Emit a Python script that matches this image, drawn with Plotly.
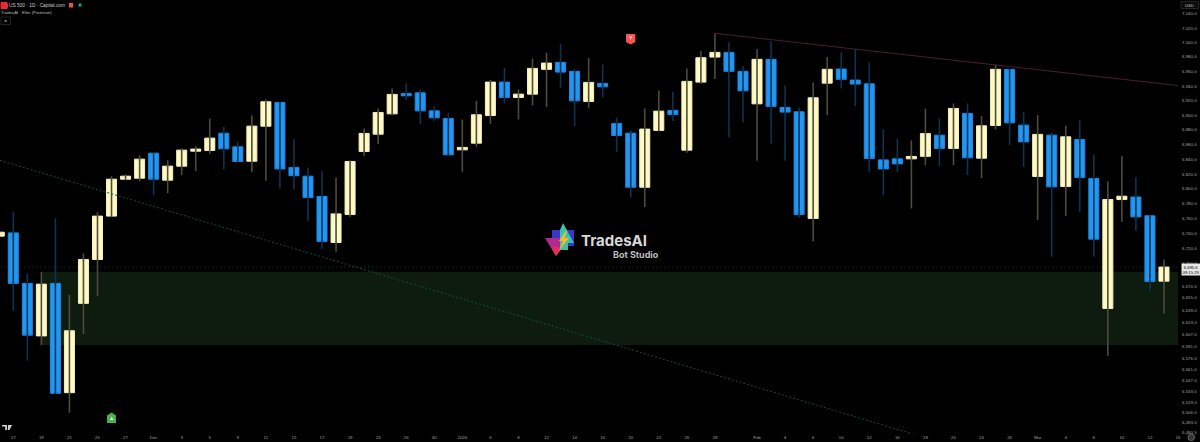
import plotly.graph_objects as go

# Candle values, first bar is the partly hidden one at the left edge
body_top = [6742.0,6741.1,6674.0,6673.0,6674.0,6611.7,6705.7,6763.5,6813.1,6817.2,6840.2,6848.3,6830.7,6852.4,6853.8,
 6868.7,6875.4,6856.9,6885.0,6918.3,6917.4,6829.0,6817.2,6789.8,6766.5,6837.0,6875.1,6903.7,6928.4,
 6929.8,6930.6,6905.9,6895.5,6856.1,6900.5,6945.3,6945.3,6928.8,6964.2,6971.5,6972.5,6960.1,6944.9,6943.5,
 6888.7,6875.5,6881.0,6905.5,6906.5,6946.3,6978.9,6986.3,6986.3,6960.1,6976.7,6976.7,6910.6,6904.6,6923.8,
 6962.9,6963.3,6948.1,6943.0,6839.2,6840.6,6843.9,6874.9,6872.7,6909.2,6902.4,6885.4,6962.9,6962.9,6886.4,
 6873.8,6872.8,6870.5,6866.9,6814.1,6785.7,6790.2,6789.2,6763.9,6695.6]
body_bottom = [6736.7,6674.0,6606.0,6605.0,6530.4,6531.2,6647.7,6705.7,6763.5,6813.1,6814.5,6813.1,6811.8,6830.7,6851.0,
 6852.0,6854.2,6837.0,6837.4,6885.0,6827.0,6817.8,6788.4,6729.7,6728.3,6765.7,6850.6,6874.1,6901.8,
 6926.5,6905.9,6896.4,6846.1,6852.8,6861.9,6899.5,6924.2,6924.2,6928.8,6962.9,6959.1,6919.6,6918.8,6938.8,
 6872.3,6802.3,6802.3,6879.2,6901.0,6852.4,6945.3,6979.8,6960.1,6933.3,6915.5,6912.0,6904.2,6765.7,6760.4,
 6943.9,6949.1,6942.6,6841.1,6827.0,6833.8,6840.6,6844.0,6854.7,6854.7,6842.0,6841.5,6886.0,6889.5,6863.6,
 6816.8,6802.8,6803.3,6815.4,6732.7,6641.0,6785.7,6762.5,6676.6,6677.0]
highs = [6745.0,6769.0,6687.5,6689.3,6760.8,6659.0,6713.7,6768.8,6817.2,6819.9,6845.6,6849.7,6838.8,6855.1,6857.8,
 6895.5,6884.1,6864.2,6900.0,6921.9,6917.9,6867.3,6828.4,6823.9,6815.4,6838.8,6881.9,6909.2,6936.6,
 6943.5,6935.3,6912.4,6903.2,6894.2,6919.6,6948.1,6965.0,6935.3,6978.0,6985.8,6997.9,6962.9,6978.4,6969.7,
 6896.9,6879.6,6909.2,6933.9,6932.0,6964.2,6988.1,7012.7,7000.2,6967.4,6990.9,7002.0,6940.8,6910.6,6944.9,
 6979.8,6986.3,6990.9,6972.5,6881.0,6867.8,6865.6,6909.0,6895.5,6916.0,6916.0,6898.7,6969.7,6963.3,6904.6,
 6900.0,6876.0,6885.4,6892.8,6846.6,6810.5,6844.3,6816.1,6764.8,6705.7]
lows = [6735.0,6637.9,6572.6,6593.0,6529.5,6505.4,6607.4,6657.2,6762.1,6811.8,6810.5,6791.5,6794.2,6818.5,6824.0,
 6847.4,6826.2,6836.8,6822.6,6810.9,6800.6,6799.2,6757.2,6719.4,6715.8,6762.5,6844.3,6860.6,6900.0,
 6920.6,6887.7,6892.2,6844.3,6823.0,6856.9,6888.1,6916.0,6894.2,6913.3,6911.0,6937.5,6885.0,6910.0,6924.2,
 6850.0,6788.4,6775.5,6878.2,6892.2,6848.8,6943.0,6949.5,6869.7,6890.5,6837.9,6861.5,6837.9,6761.2,6729.7,
 6900.0,6936.6,6912.4,6823.0,6791.5,6823.0,6773.8,6832.0,6831.0,6832.0,6818.5,6814.5,6880.6,6859.2,6829.7,
 6758.1,6709.2,6763.9,6768.8,6709.2,6578.7,6755.8,6743.8,6664.2,6634.4]
direction = ("UDDUDUUUUU" "UDUUUUDDUU" "DDDDUUUUUD" "DDDUUUDUUU" "DDUDDDUUDU"
             "UUDDUDDDUU" "DDDDDUUDUD" "UUDDUDUDDU" "UDDU")

x_ticks = [0,2,4,6,8,10,12,14,16,18,20,22,24,26,28,30,32,34,36,38,40,42,44,46,48,50,53,55,57,59,61,63,65,67,69,71,73,75,77,79,81,83]
x_labels = ["17","19","21","25","27","Dec","3","5","9","11","15","17","19","23","26","30","2026","6","8","12","14","16","20","22","26","28","Feb","4","6","10","12","16","18","20","24","26","Mar","4","6","10","12","16"]
y_ticks = [7040,7020,7000,6980,6960,6940,6920,6900,6880,6860,6840,6820,6800,6780,6760,6740,6720,6700,6670,6655,6639,6623,6607,6591,6576,6561,6547,6533,6519,6506,6493,6480.5]
zone_top, zone_bottom = 6689.3, 6593.0
last_price = 6695.6
res_line_price = [7012.7, 6940.6]
sup_line_price = [6838.5, 6478.0]

W, H, PW, PH = 1200, 442, 1178, 434
XR = [-0.948, 83.0]
bars = list(range(-1, len(body_top) - 1))
opens = [b if d == "U" else t for t, b, d in zip(body_top, body_bottom, direction)]
closes = [t if d == "U" else b for t, b, d in zip(body_top, body_bottom, direction)]

def wick_xy(kind):
    xs, ys = [], []
    for i, h, l, d in zip(bars, highs, lows, direction):
        if d == kind:
            xs += [i, i, None]
            ys += [l, h, None]
    return xs, ys

def pt(x, y):
    return f"{x/PW:.5f},{1-y/PH:.5f}"

def poly(points, color, line=None):
    path = "M " + " L ".join(pt(*p) for p in points) + " Z"
    return dict(type="path", xref="paper", yref="paper", path=path, fillcolor=color,
                line=dict(width=0.6 if line else 0, color=line or color), layer="above")

fig = go.Figure()
xu, yu = wick_xy("U")
xd, yd = wick_xy("D")
fig.add_trace(go.Scatter(x=xu, y=yu, mode="lines", line=dict(color="#4d4b39", width=1.6), hoverinfo="skip", showlegend=False))
fig.add_trace(go.Scatter(x=xd, y=yd, mode="lines", line=dict(color="#0d3351", width=1.6), hoverinfo="skip", showlegend=False))
fig.add_trace(go.Candlestick(x=bars, open=opens, close=closes,
    high=[max(o, c) for o, c in zip(opens, closes)], low=[min(o, c) for o, c in zip(opens, closes)],
    increasing=dict(line=dict(color="#f5f0bd", width=1), fillcolor="#fff9c4"),
    decreasing=dict(line=dict(color="#1e88e5", width=1), fillcolor="#2196f3"),
    whiskerwidth=0, showlegend=False))
# trend lines
fig.add_trace(go.Scatter(x=[50, XR[1]], y=res_line_price, mode="lines", line=dict(color="#4a1f30", width=1), hoverinfo="skip", showlegend=False))
fig.add_trace(go.Scatter(x=[XR[0], 64.1], y=sup_line_price, mode="lines", line=dict(color="#0f4f40", width=1, dash="2px,2px"), hoverinfo="skip", showlegend=False))

shapes = [
    dict(type="rect", xref="x", yref="y", x0=2, x1=XR[1], y0=zone_bottom, y1=zone_top, fillcolor="#0d1c0f", line=dict(width=0), layer="below"),
    dict(type="line", xref="paper", yref="y", x0=0, x1=1, y0=last_price, y1=last_price, line=dict(color="#333333", width=0.6, dash="2px,2px"), layer="below"),
    # signals
    poly([(107,423),(107,415.5),(111.7,412.5),(116,415.5),(116,423)], "#4caf50"),
    poly([(111.7,416.5),(113.5,420),(110,420)], "#d8f0d8"),
    poly([(626,34),(635.3,34),(635.3,42),(630.7,44.5),(626,42)], "#ff5252"),
    poly([(629,36.5),(632.5,36.5),(630.7,39.5)], "#ffe0e0"),
    # watermark logo
    poly([(552,230),(574,230),(574,246),(552,246)], "#3b35c9"),
    poly([(545,238),(568,238),(556,256)], "#b02a8f"),
    poly([(551,247),(563,247),(556,256)], "#e0305f"),
    poly([(563,223),(574,243),(568,243),(568,250),(560,250),(560,230)], "#37c3a5"),
    poly([(567,229),(559,241),(563,241),(559,251),(569,238),(565,238)], "#f7b733"),
    # header furniture
    poly([(1,2),(7,2),(8,4),(8,7),(7,9),(1,9),(0.5,7),(0.5,4)], "#e5283c"),
    poly([(69,3),(73,3),(73,7.5),(69,7.5)], "#f25050"),
    poly([(78.5,3.5),(81.5,3.5),(81.5,6.5),(78.5,6.5)], "#0aa88f"),
    dict(type="rect", xref="paper", yref="paper", x0=1/PW, x1=10.5/PW, y0=1-24.5/PH, y1=1-17/PH, line=dict(color="#2c2c2c", width=0.8), fillcolor="#000", layer="above"),
    poly([(4,21.5),(5.7,19.7),(7.4,21.5)], "#aaaaaa"),
    dict(type="rect", xref="paper", yref="paper", x0=1181/PW, x1=1198.5/PW, y0=1-8.5/PH, y1=1-1.5/PH, line=dict(color="#2c2c2c", width=0.8), fillcolor="#0a0a0a", layer="above"),
    # TV logo
    poly([(2,425),(7,425),(7,430),(5.2,430),(5.2,426.6),(2,426.6)], "#cfcfcf"),
    poly([(8,425),(12,425),(9.5,430),(7.8,430)], "#cfcfcf"),
    # gear
    dict(type="circle", xref="paper", yref="paper", x0=1188/PW, x1=1194.5/PW, y0=1-440.5/PH, y1=1-434/PH, line=dict(color="#666", width=1), fillcolor="#333", layer="above"),
]

def note(x, y, text, size, color="#a8a8a8", anchor="left", **kw):
    return dict(xref="paper", yref="paper", x=x/PW, y=1-y/PH, text=text, showarrow=False, xanchor=anchor, yanchor="middle",
                font=dict(size=size, color=color, family=kw.pop("family", "Liberation Sans, sans-serif")), **kw)

annotations = [
    note(7, 5.3, "US 500 · 1D · Capital.com", 4.8, "#c8c8c8"),
    note(-1, 12.5, "TradesAI · Elite (Premium)", 4.3, "#bbbbbb"),
    note(1189.5, 5, "USD", 4.2, "#c8c8c8", anchor="center"),
    note(579, 240.5, "<b>TradesAI</b>", 15, "#d8d8d8", family="Inter, sans-serif"),
    note(611, 254, "<b>Bot Studio</b>", 9, "#bdbdbd", family="Inter, sans-serif"),
    note(1190.5, 269.5, "6,695.6<br>09:15:29", 4.2, "#000000", anchor="center", bgcolor="#e8e8e8", borderpad=0.5),
]

fig.update_layout(
    width=W, height=H, margin=dict(l=0, r=W-PW, t=0, b=H-PH, autoexpand=False),
    paper_bgcolor="#000", plot_bgcolor="#000", boxgap=0.286, boxgroupgap=0, showlegend=False, shapes=shapes, annotations=annotations,
    xaxis=dict(range=XR, rangeslider=dict(visible=False), showgrid=False, zeroline=False, showline=False,
               tickmode="array", tickvals=x_ticks, ticktext=x_labels, ticks="", tickangle=0, tickfont=dict(size=4.4, color="#a0a0a0", family="Liberation Sans, sans-serif")),
    yaxis=dict(type="log", range=[3.811441, 3.84875], side="right", showgrid=False, zeroline=False, showline=False,
               tickmode="array", tickvals=y_ticks, ticktext=[f"{v:,.1f}" for v in y_ticks], ticks="", ticklabelstandoff=3,
               tickfont=dict(size=4.4, color="#a0a0a0", family="Liberation Sans, sans-serif")),
)
fig.write_html("out.html", config=dict(displayModeBar=False),
               post_script="document.body.style.margin='0';document.body.style.background='#000';document.body.style.overflow='hidden';")
